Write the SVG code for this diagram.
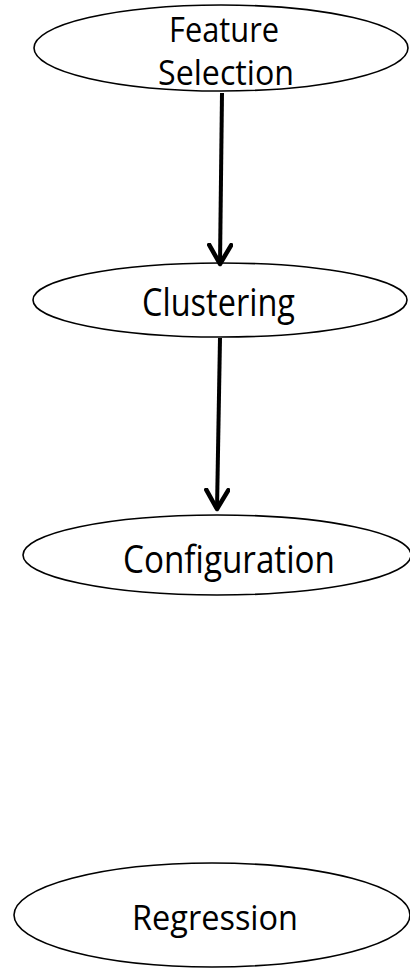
<svg xmlns="http://www.w3.org/2000/svg" width="410" height="968" viewBox="0 0 410 968">
  <style>
    .node { fill: #ffffff; stroke: #000000; stroke-width: 1.6; }
    .label { font-family: "Open Sans", "Noto Sans", "DejaVu Sans", sans-serif; font-size: 39px; fill: #000000; }
    .title { font-size: 34px; }
    .small { font-size: 35px; }
    .edge { stroke: #000000; stroke-width: 4; fill: none; }
  </style>
  <defs>
    <!-- open chevron arrowhead, sized in user units -->
    <marker id="arrow" viewBox="0 0 24 26" refX="21" refY="13" markerWidth="24" markerHeight="26" orient="auto" markerUnits="userSpaceOnUse">
      <path d="M2,2 L21,13 L2,24" fill="none" stroke="#000000" stroke-width="4.5" stroke-linejoin="round" stroke-linecap="round"/>
    </marker>
  </defs>
  <rect width="410" height="968" fill="#ffffff"/>

  <g id="node-feature-selection">
    <ellipse class="node" cx="221" cy="48" rx="187" ry="43"/>
    <text class="label title" x="169" y="42" textLength="110" lengthAdjust="spacingAndGlyphs">Feature</text>
    <text class="label title" x="158" y="85" textLength="136" lengthAdjust="spacingAndGlyphs">Selection</text>
  </g>

  <g id="node-clustering">
    <ellipse class="node" cx="220" cy="300" rx="187" ry="37"/>
    <text class="label" x="142" y="316" textLength="153" lengthAdjust="spacingAndGlyphs">Clustering</text>
  </g>

  <g id="node-configuration">
    <ellipse class="node" cx="217" cy="555" rx="194" ry="40"/>
    <text class="label" x="123" y="573" textLength="212" lengthAdjust="spacingAndGlyphs">Configuration</text>
  </g>

  <g id="node-regression">
    <ellipse class="node" cx="212" cy="915" rx="198" ry="52"/>
    <text class="label small" x="132" y="930" textLength="166" lengthAdjust="spacingAndGlyphs">Regression</text>
  </g>

  <g id="connectors">
    <line class="edge" x1="222" y1="93" x2="220" y2="264" marker-end="url(#arrow)"/>
    <line class="edge" x1="220" y1="338" x2="217" y2="509" marker-end="url(#arrow)"/>
  </g>
</svg>
